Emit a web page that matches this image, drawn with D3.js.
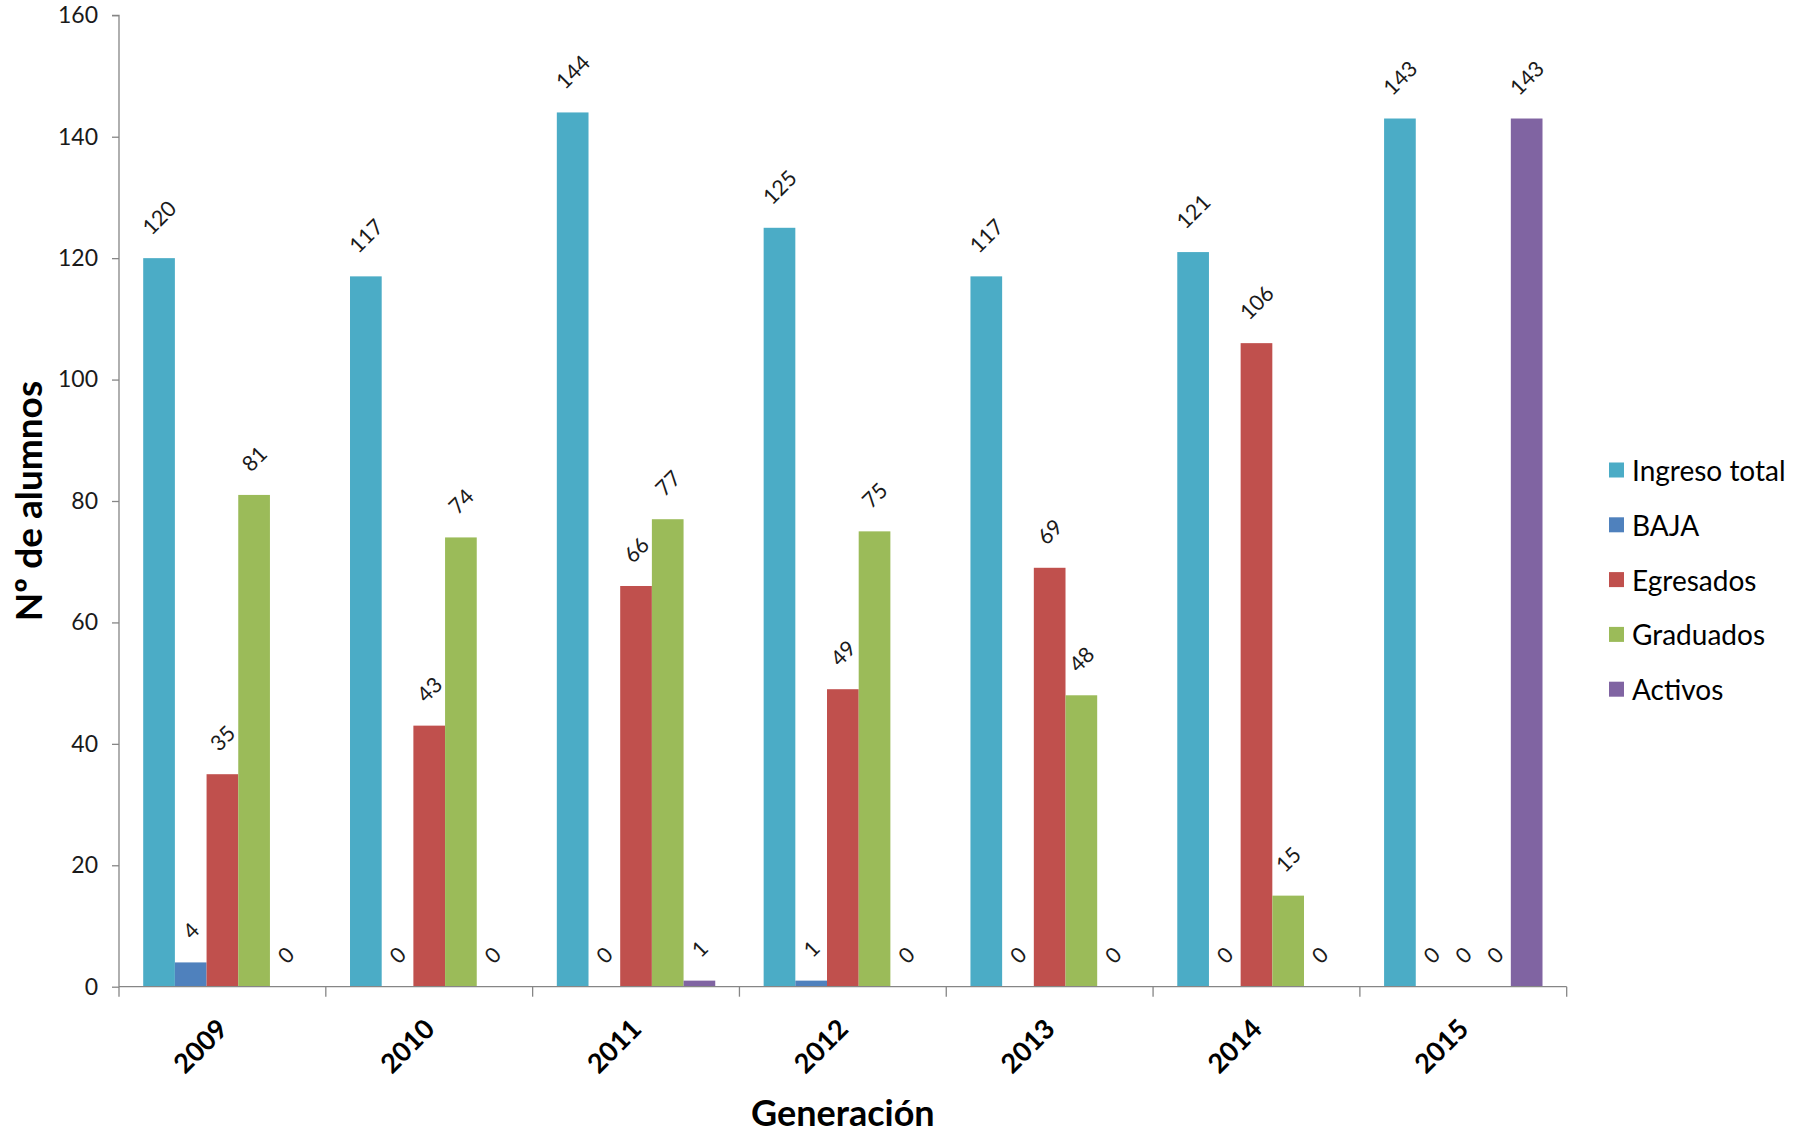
<!DOCTYPE html>
<html>
<head>
<meta charset="utf-8">
<script src="https://cdn.jsdelivr.net/npm/d3@7"></script>
<style>
  html, body { margin: 0; padding: 0; background: #ffffff; }
  svg { display: block; font-family: Lato, "Open Sans", sans-serif; }
</style>
</head>
<body>
<svg id="chart" width="1801" height="1133"></svg>
<script>
// ---- data ----
const categories = ["2009", "2010", "2011", "2012", "2013", "2014", "2015"];
const seriesNames = ["Ingreso total", "BAJA", "Egresados", "Graduados", "Activos"];
const ingresoTotal = [120, 117, 144, 125, 117, 121, 143];
const baja         = [4, 0, 0, 1, 0, 0, 0];
const egresados    = [35, 43, 66, 49, 69, 106, 0];
const graduados    = [81, 74, 77, 75, 48, 15, 0];
const activos      = [0, 0, 1, 0, 0, 0, 143];
const yTicks = [0, 20, 40, 60, 80, 100, 120, 140, 160];
const seriesColors = ["#4BACC6", "#4F81BD", "#C0504D", "#9BBB59", "#8064A2"];
const yTitle = "Nº de alumnos";
const xTitle = "Generación";

const seriesValues = [ingresoTotal, baja, egresados, graduados, activos];

// ---- layout ----
const svg = d3.select("#chart");
const plot = { left: 119, right: 1566.7, top: 15.3, bottom: 986.7 };
const axisColor = "#868686";

const x0 = d3.scaleBand().domain(categories).range([plot.left, plot.right]).padding(0);
const bw = x0.bandwidth();
const groupGap = bw * 0.234 / 2;
const x1 = d3.scaleBand().domain(seriesNames).range([groupGap, bw - groupGap]).padding(0);
const y = d3.scaleLinear().domain([0, 160]).range([plot.bottom, plot.top]);

// ---- bars ----
const rows = [];
categories.forEach((c, ci) => {
  seriesNames.forEach((s, si) => {
    rows.push({ cat: c, series: s, si, value: seriesValues[si][ci] });
  });
});

const g = svg.append("g");
g.selectAll("rect.bar").data(rows).enter().append("rect")
  .attr("class", "bar")
  .attr("x", d => x0(d.cat) + x1(d.series))
  .attr("y", d => y(d.value))
  .attr("width", x1.bandwidth())
  .attr("height", d => y(0) - y(d.value))
  .attr("fill", d => seriesColors[d.si]);

// ---- y axis ----
const yAxis = d3.axisLeft(y).tickValues(yTicks).tickSize(7).tickPadding(14);
const yg = svg.append("g").attr("transform", `translate(${plot.left},0)`).call(yAxis);
yg.select(".domain").attr("stroke", axisColor).attr("stroke-width", 1.3)
  .attr("d", `M-7,${plot.top}H0V${plot.bottom}`);
yg.selectAll(".tick line").attr("stroke", axisColor).attr("stroke-width", 1.3);
yg.selectAll(".tick text").attr("font-size", 23).attr("fill", "#1a1a1a")
  .attr("font-family", "Lato, sans-serif");

// ---- x axis ----
const boundaries = categories.map(c => x0(c)).concat([plot.right]);
const xg = svg.append("g");
xg.append("line")
  .attr("x1", plot.left).attr("x2", plot.right)
  .attr("y1", y(0)).attr("y2", y(0))
  .attr("stroke", axisColor).attr("stroke-width", 1.3);
xg.selectAll("line.xt").data(boundaries).enter().append("line")
  .attr("class", "xt")
  .attr("x1", d => d).attr("x2", d => d)
  .attr("y1", y(0)).attr("y2", y(0) + 10)
  .attr("stroke", axisColor).attr("stroke-width", 1.3);
xg.selectAll("text.xl").data(categories).enter().append("text")
  .attr("class", "xl")
  .attr("transform", d => `translate(${x0(d) + bw / 2 + 7},${y(0) + 44}) rotate(-45)`)
  .attr("text-anchor", "end")
  .attr("font-size", 27)
  .attr("font-weight", "bold")
  .attr("fill", "#000")
  .text(d => d);

// ---- data labels ----
const labelFs = 21.5;
const labels = g.selectAll("text.dl").data(rows).enter().append("text")
  .attr("class", "dl")
  .attr("font-size", labelFs)
  .attr("fill", "#1a1a1a")
  .attr("text-anchor", "middle")
  .attr("dominant-baseline", "central")
  .text(d => d.value);
labels.each(function(d) {
  const len = this.getComputedTextLength();
  const ext = (len + labelFs * 0.72) / Math.SQRT2;
  const cx = x0(d.cat) + x1(d.series) + x1.bandwidth() / 2;
  const cy = y(d.value) - 22 - ext / 2;
  d3.select(this).attr("transform", `translate(${cx},${cy}) rotate(-45)`);
});

// ---- axis titles ----
svg.append("text")
  .attr("transform", `translate(42,${(plot.top + plot.bottom) / 2}) rotate(-90)`)
  .attr("text-anchor", "middle")
  .attr("font-size", 37)
  .attr("font-weight", "bold")
  .attr("fill", "#000")
  .text(yTitle);

svg.append("text")
  .attr("x", (plot.left + plot.right) / 2)
  .attr("y", 1126)
  .attr("text-anchor", "middle")
  .attr("font-size", 36)
  .attr("font-weight", "bold")
  .attr("fill", "#000")
  .text(xTitle);

// ---- legend ----
const legend = svg.append("g").attr("transform", "translate(1609,470)");
const li = legend.selectAll("g.li").data(seriesNames).enter().append("g")
  .attr("class", "li")
  .attr("transform", (d, i) => `translate(0,${i * 54.8})`);
li.append("rect").attr("x", 0).attr("y", -7.5).attr("width", 15).attr("height", 15)
  .attr("fill", (d, i) => seriesColors[i]);
li.append("text").attr("x", 23).attr("y", 0)
  .attr("dominant-baseline", "central")
  .attr("font-size", 28)
  .attr("fill", "#000")
  .text(d => d);
</script>
</body>
</html>
